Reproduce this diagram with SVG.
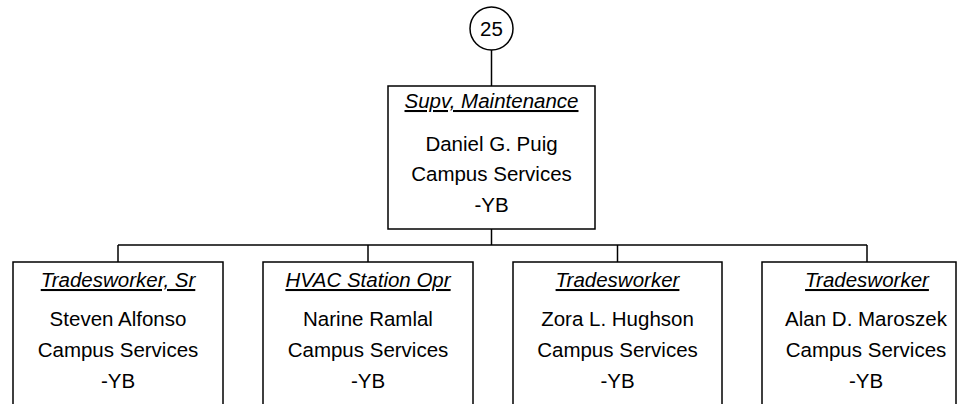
<svg xmlns="http://www.w3.org/2000/svg" width="957" height="404" viewBox="0 0 957 404">
<style>
.box{fill:#fff;stroke:#000;stroke-width:1.5}
.ln{fill:none;stroke:#000;stroke-width:1.5}
text{font-family:"Liberation Sans",Arial,sans-serif;font-size:20.5px;fill:#000;text-anchor:middle}
.t{font-style:italic;text-decoration:underline}
</style>
<rect width="957" height="404" fill="#fff"/>
<g id="connectors">
<line class="ln" x1="491.5" y1="50" x2="491.5" y2="86"/>
<line class="ln" x1="491.5" y1="229" x2="491.5" y2="245"/>
<line class="ln" x1="118" y1="245" x2="867" y2="245"/>
<line class="ln" x1="118" y1="245" x2="118" y2="262"/>
<line class="ln" x1="368" y1="245" x2="368" y2="262"/>
<line class="ln" x1="617.5" y1="245" x2="617.5" y2="262"/>
<line class="ln" x1="867" y1="245" x2="867" y2="262"/>
</g>
<g id="ref25">
<circle class="box" cx="491.5" cy="28.5" r="21.5"/>
<text x="491.5" y="35.5">25</text>
</g>
<g id="supv">
<rect class="box" x="388" y="86" width="207" height="143"/>
<text class="t" x="491.5" y="108">Supv, Maintenance</text>
<text x="491.5" y="150.5">Daniel G. Puig</text>
<text x="491.5" y="181">Campus Services</text>
<text x="491.5" y="211.5">-YB</text>
</g>
<g id="n1">
<rect class="box" x="13" y="262" width="210" height="160"/>
<text class="t" x="118" y="287">Tradesworker, Sr</text>
<text x="118" y="326">Steven Alfonso</text>
<text x="118" y="357">Campus Services</text>
<text x="118" y="388">-YB</text>
</g>
<g id="n2">
<rect class="box" x="263" y="262" width="210" height="160"/>
<text class="t" x="368" y="287">HVAC Station Opr</text>
<text x="368" y="326">Narine Ramlal</text>
<text x="368" y="357">Campus Services</text>
<text x="368" y="388">-YB</text>
</g>
<g id="n3">
<rect class="box" x="513" y="262" width="209" height="160"/>
<text class="t" x="617.5" y="287">Tradesworker</text>
<text x="617.5" y="326">Zora L. Hughson</text>
<text x="617.5" y="357">Campus Services</text>
<text x="617.5" y="388">-YB</text>
</g>
<g id="n4">
<rect class="box" x="762" y="262" width="194" height="160"/>
<text class="t" x="867" y="287">Tradesworker</text>
<text x="866" y="326">Alan D. Maroszek</text>
<text x="866" y="357">Campus Services</text>
<text x="866" y="388">-YB</text>
</g>
</svg>
